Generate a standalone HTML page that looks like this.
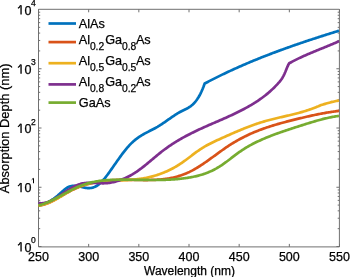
<!DOCTYPE html>
<html><head><meta charset="utf-8"><style>
html,body{margin:0;padding:0;background:#fff;}
body{width:350px;height:277px;position:relative;overflow:hidden;}
svg{position:absolute;left:0;top:0;}
.tx{will-change:transform;}
.tx text{font-family:"Liberation Sans",sans-serif;fill:#000;stroke:#000;stroke-width:0.25px;}
</style></head><body>
<svg width="350" height="277" viewBox="0 0 350 277">
<path d="M38.5 9.3H339.4V246.9H38.5Z" fill="none" stroke="#707070" stroke-width="1.0"/>
<path d="M38.50 246.9v-3M38.50 9.3v3M88.67 246.9v-3M88.67 9.3v3M138.83 246.9v-3M138.83 9.3v3M189.00 246.9v-3M189.00 9.3v3M239.17 246.9v-3M239.17 9.3v3M289.33 246.9v-3M289.33 9.3v3M339.50 246.9v-3M339.50 9.3v3M38.5 246.50h3M339.4 246.50h-3M38.5 228.66h1.7M339.4 228.66h-1.7M38.5 218.23h1.7M339.4 218.23h-1.7M38.5 210.83h1.7M339.4 210.83h-1.7M38.5 205.09h1.7M339.4 205.09h-1.7M38.5 200.39h1.7M339.4 200.39h-1.7M38.5 196.43h1.7M339.4 196.43h-1.7M38.5 192.99h1.7M339.4 192.99h-1.7M38.5 189.96h1.7M339.4 189.96h-1.7M38.5 187.25h3M339.4 187.25h-3M38.5 169.41h1.7M339.4 169.41h-1.7M38.5 158.98h1.7M339.4 158.98h-1.7M38.5 151.58h1.7M339.4 151.58h-1.7M38.5 145.84h1.7M339.4 145.84h-1.7M38.5 141.14h1.7M339.4 141.14h-1.7M38.5 137.18h1.7M339.4 137.18h-1.7M38.5 133.74h1.7M339.4 133.74h-1.7M38.5 130.71h1.7M339.4 130.71h-1.7M38.5 128.00h3M339.4 128.00h-3M38.5 110.16h1.7M339.4 110.16h-1.7M38.5 99.73h1.7M339.4 99.73h-1.7M38.5 92.33h1.7M339.4 92.33h-1.7M38.5 86.59h1.7M339.4 86.59h-1.7M38.5 81.89h1.7M339.4 81.89h-1.7M38.5 77.93h1.7M339.4 77.93h-1.7M38.5 74.49h1.7M339.4 74.49h-1.7M38.5 71.46h1.7M339.4 71.46h-1.7M38.5 68.75h3M339.4 68.75h-3M38.5 50.91h1.7M339.4 50.91h-1.7M38.5 40.48h1.7M339.4 40.48h-1.7M38.5 33.08h1.7M339.4 33.08h-1.7M38.5 27.34h1.7M339.4 27.34h-1.7M38.5 22.64h1.7M339.4 22.64h-1.7M38.5 18.68h1.7M339.4 18.68h-1.7M38.5 15.24h1.7M339.4 15.24h-1.7M38.5 12.21h1.7M339.4 12.21h-1.7" stroke="#707070" stroke-width="1.0" fill="none"/>
<path d="M38.50 204.80 L39.50 204.72 L40.50 204.58 L41.50 204.40 L42.50 204.17 L43.50 203.89 L44.50 203.57 L45.50 203.20 L46.50 202.79 L47.50 202.34 L48.50 201.84 L49.50 201.31 L50.50 200.74 L51.50 200.13 L52.50 199.48 L53.50 198.80 L54.50 198.08 L55.50 197.33 L56.50 196.55 L57.50 195.74 L58.50 194.89 L59.50 194.02 L60.50 193.13 L61.50 192.24 L62.50 191.35 L63.50 190.48 L64.50 189.65 L65.50 188.87 L66.50 188.15 L67.50 187.51 L68.50 186.97 L69.50 186.53 L70.50 186.20 L71.50 185.97 L72.50 185.83 L73.50 185.77 L74.50 185.78 L75.50 185.84 L76.50 185.96 L77.50 186.13 L78.50 186.32 L79.50 186.54 L80.50 186.78 L81.50 187.01 L82.50 187.25 L83.50 187.47 L84.50 187.66 L85.50 187.83 L86.50 187.95 L87.50 188.04 L88.50 188.07 L89.50 188.05 L90.50 187.98 L91.50 187.84 L92.50 187.63 L93.50 187.34 L94.50 186.98 L95.50 186.53 L96.50 185.99 L97.50 185.36 L98.50 184.63 L99.50 183.81 L100.50 182.90 L101.50 181.92 L102.50 180.86 L103.50 179.73 L104.50 178.55 L105.50 177.31 L106.50 176.03 L107.50 174.70 L108.50 173.34 L109.50 171.96 L110.50 170.55 L111.50 169.14 L112.50 167.71 L113.50 166.28 L114.50 164.84 L115.50 163.41 L116.50 161.99 L117.50 160.57 L118.50 159.16 L119.50 157.76 L120.50 156.38 L121.50 155.02 L122.50 153.68 L123.50 152.37 L124.50 151.09 L125.50 149.83 L126.50 148.61 L127.50 147.43 L128.50 146.29 L129.50 145.19 L130.50 144.13 L131.50 143.13 L132.50 142.18 L133.50 141.27 L134.50 140.41 L135.50 139.59 L136.50 138.81 L137.50 138.07 L138.50 137.36 L139.50 136.69 L140.50 136.04 L141.50 135.42 L142.50 134.82 L143.50 134.25 L144.50 133.69 L145.50 133.15 L146.50 132.61 L147.50 132.09 L148.50 131.58 L149.50 131.07 L150.50 130.56 L151.50 130.05 L152.50 129.53 L153.50 129.01 L154.50 128.48 L155.50 127.94 L156.50 127.38 L157.50 126.81 L158.50 126.21 L159.50 125.59 L160.50 124.96 L161.50 124.31 L162.50 123.64 L163.50 122.96 L164.50 122.28 L165.50 121.58 L166.50 120.88 L167.50 120.18 L168.50 119.47 L169.50 118.77 L170.50 118.07 L171.50 117.38 L172.50 116.69 L173.50 116.01 L174.50 115.35 L175.50 114.70 L176.50 114.06 L177.50 113.45 L178.50 112.85 L179.50 112.28 L180.50 111.74 L181.50 111.22 L182.50 110.72 L183.50 110.24 L184.50 109.76 L185.50 109.27 L186.50 108.76 L187.50 108.22 L188.50 107.64 L189.50 107.01 L190.50 106.32 L191.50 105.55 L192.50 104.70 L193.50 103.75 L194.50 102.70 L195.50 101.54 L196.50 100.24 L197.50 98.81 L198.50 97.24 L199.50 95.50 L200.50 93.59 L201.50 91.51 L202.50 89.23 L203.50 86.76 L204.50 84.07 L204.70 83.50 L205.70 82.97 L206.70 82.45 L207.70 81.93 L208.70 81.41 L209.70 80.89 L210.70 80.38 L211.70 79.86 L212.70 79.36 L213.70 78.85 L214.70 78.35 L215.70 77.85 L216.70 77.35 L217.70 76.85 L218.70 76.36 L219.70 75.87 L220.70 75.38 L221.70 74.90 L222.70 74.41 L223.70 73.93 L224.70 73.46 L225.70 72.98 L226.70 72.51 L227.70 72.04 L228.70 71.57 L229.70 71.11 L230.70 70.64 L231.70 70.18 L232.70 69.72 L233.70 69.27 L234.70 68.81 L235.70 68.36 L236.70 67.91 L237.70 67.47 L238.70 67.02 L239.70 66.58 L240.70 66.14 L241.70 65.70 L242.70 65.27 L243.70 64.83 L244.70 64.40 L245.70 63.97 L246.70 63.54 L247.70 63.12 L248.70 62.70 L249.70 62.27 L250.70 61.86 L251.70 61.44 L252.70 61.02 L253.70 60.61 L254.70 60.20 L255.70 59.79 L256.70 59.38 L257.70 58.98 L258.70 58.57 L259.70 58.17 L260.70 57.77 L261.70 57.37 L262.70 56.98 L263.70 56.58 L264.70 56.19 L265.70 55.80 L266.70 55.41 L267.70 55.02 L268.70 54.64 L269.70 54.25 L270.70 53.87 L271.70 53.49 L272.70 53.11 L273.70 52.73 L274.70 52.36 L275.70 51.98 L276.70 51.61 L277.70 51.24 L278.70 50.87 L279.70 50.50 L280.70 50.13 L281.70 49.77 L282.70 49.41 L283.70 49.04 L284.70 48.68 L285.70 48.32 L286.70 47.96 L287.70 47.61 L288.70 47.25 L289.70 46.90 L290.70 46.55 L291.70 46.19 L292.70 45.84 L293.70 45.49 L294.70 45.15 L295.70 44.80 L296.70 44.45 L297.70 44.11 L298.70 43.77 L299.70 43.43 L300.70 43.09 L301.70 42.75 L302.70 42.41 L303.70 42.07 L304.70 41.73 L305.70 41.40 L306.70 41.06 L307.70 40.73 L308.70 40.40 L309.70 40.07 L310.70 39.74 L311.70 39.41 L312.70 39.08 L313.70 38.75 L314.70 38.42 L315.70 38.10 L316.70 37.77 L317.70 37.45 L318.70 37.12 L319.70 36.80 L320.70 36.48 L321.70 36.16 L322.70 35.84 L323.70 35.52 L324.70 35.20 L325.70 34.88 L326.70 34.56 L327.70 34.25 L328.70 33.93 L329.70 33.61 L330.70 33.30 L331.70 32.98 L332.70 32.67 L333.70 32.35 L334.70 32.04 L335.70 31.73 L336.70 31.42 L337.70 31.11 L338.70 30.79 L339.00 30.70" stroke="#0072BD" stroke-width="2.7" fill="none" stroke-linejoin="round" stroke-linecap="butt"/>
<path d="M38.50 205.60 L39.50 205.50 L40.50 205.35 L41.50 205.16 L42.50 204.93 L43.50 204.67 L44.50 204.38 L45.50 204.05 L46.50 203.69 L47.50 203.31 L48.50 202.90 L49.50 202.46 L50.50 202.01 L51.50 201.53 L52.50 201.03 L53.50 200.52 L54.50 199.99 L55.50 199.44 L56.50 198.89 L57.50 198.32 L58.50 197.75 L59.50 197.17 L60.50 196.59 L61.50 196.00 L62.50 195.42 L63.50 194.83 L64.50 194.25 L65.50 193.67 L66.50 193.10 L67.50 192.54 L68.50 191.98 L69.50 191.44 L70.50 190.92 L71.50 190.41 L72.50 189.91 L73.50 189.43 L74.50 188.96 L75.50 188.51 L76.50 188.08 L77.50 187.66 L78.50 187.25 L79.50 186.86 L80.50 186.48 L81.50 186.11 L82.50 185.76 L83.50 185.42 L84.50 185.09 L85.50 184.77 L86.50 184.47 L87.50 184.18 L88.50 183.90 L89.50 183.64 L90.50 183.38 L91.50 183.14 L92.50 182.90 L93.50 182.68 L94.50 182.47 L95.50 182.26 L96.50 182.07 L97.50 181.89 L98.50 181.72 L99.50 181.55 L100.50 181.40 L101.50 181.25 L102.50 181.12 L103.50 180.99 L104.50 180.87 L105.50 180.75 L106.50 180.65 L107.50 180.55 L108.50 180.46 L109.50 180.38 L110.50 180.30 L111.50 180.23 L112.50 180.17 L113.50 180.11 L114.50 180.06 L115.50 180.01 L116.50 179.97 L117.50 179.94 L118.50 179.91 L119.50 179.88 L120.50 179.86 L121.50 179.84 L122.50 179.83 L123.50 179.82 L124.50 179.81 L125.50 179.81 L126.50 179.81 L127.50 179.82 L128.50 179.82 L129.50 179.83 L130.50 179.84 L131.50 179.85 L132.50 179.87 L133.50 179.88 L134.50 179.90 L135.50 179.92 L136.50 179.93 L137.50 179.95 L138.50 179.97 L139.50 179.98 L140.50 180.00 L141.50 180.01 L142.50 180.02 L143.50 180.03 L144.50 180.03 L145.50 180.03 L146.50 180.03 L147.50 180.03 L148.50 180.02 L149.50 180.01 L150.50 179.99 L151.50 179.97 L152.50 179.94 L153.50 179.91 L154.50 179.87 L155.50 179.82 L156.50 179.77 L157.50 179.71 L158.50 179.64 L159.50 179.56 L160.50 179.48 L161.50 179.39 L162.50 179.28 L163.50 179.17 L164.50 179.05 L165.50 178.92 L166.50 178.78 L167.50 178.63 L168.50 178.47 L169.50 178.30 L170.50 178.11 L171.50 177.91 L172.50 177.70 L173.50 177.48 L174.50 177.25 L175.50 177.00 L176.50 176.73 L177.50 176.46 L178.50 176.17 L179.50 175.86 L180.50 175.54 L181.50 175.20 L182.50 174.85 L183.50 174.48 L184.50 174.09 L185.50 173.69 L186.50 173.27 L187.50 172.84 L188.50 172.38 L189.50 171.91 L190.50 171.41 L191.50 170.90 L192.50 170.38 L193.50 169.83 L194.50 169.27 L195.50 168.69 L196.50 168.10 L197.50 167.49 L198.50 166.88 L199.50 166.24 L200.50 165.60 L201.50 164.95 L202.50 164.28 L203.50 163.61 L204.50 162.93 L205.50 162.24 L206.50 161.54 L207.50 160.84 L208.50 160.13 L209.50 159.41 L210.50 158.69 L211.50 157.97 L212.50 157.25 L213.50 156.52 L214.50 155.79 L215.50 155.06 L216.50 154.34 L217.50 153.61 L218.50 152.88 L219.50 152.16 L220.50 151.44 L221.50 150.73 L222.50 150.02 L223.50 149.31 L224.50 148.61 L225.50 147.92 L226.50 147.24 L227.50 146.56 L228.50 145.90 L229.50 145.24 L230.50 144.60 L231.50 143.97 L232.50 143.34 L233.50 142.73 L234.50 142.13 L235.50 141.54 L236.50 140.96 L237.50 140.39 L238.50 139.83 L239.50 139.28 L240.50 138.74 L241.50 138.21 L242.50 137.69 L243.50 137.18 L244.50 136.67 L245.50 136.18 L246.50 135.69 L247.50 135.22 L248.50 134.75 L249.50 134.29 L250.50 133.84 L251.50 133.39 L252.50 132.96 L253.50 132.53 L254.50 132.11 L255.50 131.70 L256.50 131.29 L257.50 130.89 L258.50 130.50 L259.50 130.11 L260.50 129.73 L261.50 129.36 L262.50 129.00 L263.50 128.64 L264.50 128.28 L265.50 127.93 L266.50 127.59 L267.50 127.25 L268.50 126.92 L269.50 126.60 L270.50 126.27 L271.50 125.96 L272.50 125.65 L273.50 125.34 L274.50 125.03 L275.50 124.74 L276.50 124.44 L277.50 124.15 L278.50 123.86 L279.50 123.58 L280.50 123.30 L281.50 123.02 L282.50 122.75 L283.50 122.48 L284.50 122.21 L285.50 121.94 L286.50 121.68 L287.50 121.42 L288.50 121.16 L289.50 120.91 L290.50 120.65 L291.50 120.40 L292.50 120.15 L293.50 119.90 L294.50 119.65 L295.50 119.40 L296.50 119.16 L297.50 118.91 L298.50 118.67 L299.50 118.42 L300.50 118.18 L301.50 117.94 L302.50 117.71 L303.50 117.47 L304.50 117.23 L305.50 117.00 L306.50 116.77 L307.50 116.54 L308.50 116.31 L309.50 116.09 L310.50 115.87 L311.50 115.65 L312.50 115.43 L313.50 115.22 L314.50 115.00 L315.50 114.80 L316.50 114.59 L317.50 114.39 L318.50 114.19 L319.50 113.99 L320.50 113.79 L321.50 113.60 L322.50 113.42 L323.50 113.23 L324.50 113.05 L325.50 112.88 L326.50 112.70 L327.50 112.53 L328.50 112.37 L329.50 112.21 L330.50 112.05 L331.50 111.90 L332.50 111.75 L333.50 111.61 L334.50 111.47 L335.50 111.33 L336.50 111.20 L337.50 111.08 L338.50 110.96 L339.00 110.90" stroke="#D95319" stroke-width="2.7" fill="none" stroke-linejoin="round" stroke-linecap="butt"/>
<path d="M38.50 205.60 L39.50 205.40 L40.50 205.19 L41.50 204.96 L42.50 204.71 L43.50 204.44 L44.50 204.15 L45.50 203.84 L46.50 203.51 L47.50 203.15 L48.50 202.78 L49.50 202.38 L50.50 201.97 L51.50 201.52 L52.50 201.06 L53.50 200.57 L54.50 200.06 L55.50 199.53 L56.50 198.97 L57.50 198.40 L58.50 197.81 L59.50 197.21 L60.50 196.60 L61.50 195.98 L62.50 195.36 L63.50 194.73 L64.50 194.11 L65.50 193.49 L66.50 192.88 L67.50 192.28 L68.50 191.69 L69.50 191.11 L70.50 190.56 L71.50 190.02 L72.50 189.50 L73.50 189.01 L74.50 188.53 L75.50 188.08 L76.50 187.64 L77.50 187.22 L78.50 186.82 L79.50 186.43 L80.50 186.07 L81.50 185.72 L82.50 185.38 L83.50 185.06 L84.50 184.76 L85.50 184.47 L86.50 184.20 L87.50 183.94 L88.50 183.69 L89.50 183.46 L90.50 183.24 L91.50 183.03 L92.50 182.83 L93.50 182.65 L94.50 182.48 L95.50 182.31 L96.50 182.16 L97.50 182.02 L98.50 181.88 L99.50 181.76 L100.50 181.64 L101.50 181.53 L102.50 181.43 L103.50 181.33 L104.50 181.24 L105.50 181.16 L106.50 181.09 L107.50 181.01 L108.50 180.95 L109.50 180.89 L110.50 180.83 L111.50 180.78 L112.50 180.72 L113.50 180.68 L114.50 180.63 L115.50 180.59 L116.50 180.54 L117.50 180.50 L118.50 180.46 L119.50 180.42 L120.50 180.38 L121.50 180.34 L122.50 180.29 L123.50 180.25 L124.50 180.20 L125.50 180.15 L126.50 180.10 L127.50 180.04 L128.50 179.98 L129.50 179.92 L130.50 179.85 L131.50 179.78 L132.50 179.70 L133.50 179.61 L134.50 179.52 L135.50 179.42 L136.50 179.32 L137.50 179.21 L138.50 179.08 L139.50 178.95 L140.50 178.82 L141.50 178.67 L142.50 178.51 L143.50 178.34 L144.50 178.16 L145.50 177.98 L146.50 177.78 L147.50 177.57 L148.50 177.35 L149.50 177.12 L150.50 176.88 L151.50 176.63 L152.50 176.37 L153.50 176.10 L154.50 175.81 L155.50 175.51 L156.50 175.20 L157.50 174.88 L158.50 174.55 L159.50 174.20 L160.50 173.84 L161.50 173.47 L162.50 173.09 L163.50 172.69 L164.50 172.28 L165.50 171.85 L166.50 171.41 L167.50 170.96 L168.50 170.49 L169.50 170.01 L170.50 169.52 L171.50 169.01 L172.50 168.48 L173.50 167.94 L174.50 167.39 L175.50 166.82 L176.50 166.23 L177.50 165.63 L178.50 165.01 L179.50 164.38 L180.50 163.73 L181.50 163.06 L182.50 162.38 L183.50 161.68 L184.50 160.97 L185.50 160.24 L186.50 159.50 L187.50 158.75 L188.50 157.99 L189.50 157.23 L190.50 156.47 L191.50 155.70 L192.50 154.94 L193.50 154.18 L194.50 153.43 L195.50 152.69 L196.50 151.95 L197.50 151.23 L198.50 150.53 L199.50 149.84 L200.50 149.17 L201.50 148.52 L202.50 147.89 L203.50 147.28 L204.50 146.69 L205.50 146.11 L206.50 145.55 L207.50 145.00 L208.50 144.47 L209.50 143.95 L210.50 143.44 L211.50 142.94 L212.50 142.45 L213.50 141.97 L214.50 141.49 L215.50 141.03 L216.50 140.56 L217.50 140.10 L218.50 139.65 L219.50 139.19 L220.50 138.74 L221.50 138.29 L222.50 137.84 L223.50 137.39 L224.50 136.94 L225.50 136.49 L226.50 136.04 L227.50 135.59 L228.50 135.15 L229.50 134.70 L230.50 134.26 L231.50 133.82 L232.50 133.38 L233.50 132.95 L234.50 132.52 L235.50 132.09 L236.50 131.66 L237.50 131.23 L238.50 130.81 L239.50 130.39 L240.50 129.98 L241.50 129.56 L242.50 129.15 L243.50 128.75 L244.50 128.35 L245.50 127.95 L246.50 127.56 L247.50 127.17 L248.50 126.79 L249.50 126.41 L250.50 126.03 L251.50 125.66 L252.50 125.30 L253.50 124.94 L254.50 124.58 L255.50 124.23 L256.50 123.89 L257.50 123.55 L258.50 123.22 L259.50 122.89 L260.50 122.57 L261.50 122.26 L262.50 121.95 L263.50 121.65 L264.50 121.36 L265.50 121.07 L266.50 120.79 L267.50 120.51 L268.50 120.24 L269.50 119.98 L270.50 119.72 L271.50 119.46 L272.50 119.21 L273.50 118.96 L274.50 118.71 L275.50 118.47 L276.50 118.23 L277.50 118.00 L278.50 117.76 L279.50 117.53 L280.50 117.29 L281.50 117.06 L282.50 116.83 L283.50 116.60 L284.50 116.37 L285.50 116.14 L286.50 115.91 L287.50 115.68 L288.50 115.44 L289.50 115.21 L290.50 114.97 L291.50 114.73 L292.50 114.49 L293.50 114.24 L294.50 113.99 L295.50 113.74 L296.50 113.49 L297.50 113.22 L298.50 112.96 L299.50 112.69 L300.50 112.41 L301.50 112.13 L302.50 111.84 L303.50 111.55 L304.50 111.25 L305.50 110.94 L306.50 110.63 L307.50 110.30 L308.50 109.97 L309.50 109.64 L310.50 109.29 L311.50 108.93 L312.50 108.57 L313.50 108.19 L314.50 107.80 L315.50 107.41 L316.50 107.00 L317.50 106.58 L318.50 106.16 L319.50 105.71 L320.20 105.40 L321.20 105.08 L322.20 104.76 L323.20 104.45 L324.20 104.15 L325.20 103.85 L326.20 103.55 L327.20 103.26 L328.20 102.98 L329.20 102.71 L330.20 102.44 L331.20 102.18 L332.20 101.93 L333.20 101.69 L334.20 101.46 L335.20 101.24 L336.20 101.03 L337.20 100.83 L338.20 100.64 L339.00 100.50" stroke="#EDB120" stroke-width="2.7" fill="none" stroke-linejoin="round" stroke-linecap="butt"/>
<path d="M38.50 203.00 L39.50 203.14 L40.50 203.22 L41.50 203.23 L42.50 203.18 L43.50 203.07 L44.50 202.91 L45.50 202.69 L46.50 202.42 L47.50 202.11 L48.50 201.75 L49.50 201.35 L50.50 200.91 L51.50 200.44 L52.50 199.93 L53.50 199.40 L54.50 198.84 L55.50 198.25 L56.50 197.65 L57.50 197.02 L58.50 196.38 L59.50 195.73 L60.50 195.07 L61.50 194.40 L62.50 193.73 L63.50 193.06 L64.50 192.39 L65.50 191.73 L66.50 191.07 L67.50 190.41 L68.50 189.78 L69.50 189.15 L70.50 188.54 L71.50 187.95 L72.50 187.38 L73.50 186.84 L74.50 186.32 L75.50 185.83 L76.50 185.38 L77.50 184.95 L78.50 184.57 L79.50 184.22 L80.50 183.92 L81.50 183.65 L82.50 183.43 L83.50 183.25 L84.50 183.10 L85.50 182.98 L86.50 182.89 L87.50 182.83 L88.50 182.80 L89.50 182.78 L90.50 182.79 L91.50 182.81 L92.50 182.84 L93.50 182.88 L94.50 182.93 L95.50 182.99 L96.50 183.04 L97.50 183.10 L98.50 183.16 L99.50 183.20 L100.50 183.24 L101.50 183.27 L102.50 183.29 L103.50 183.28 L104.50 183.26 L105.50 183.22 L106.50 183.15 L107.50 183.06 L108.50 182.95 L109.50 182.82 L110.50 182.66 L111.50 182.49 L112.50 182.29 L113.50 182.07 L114.50 181.84 L115.50 181.58 L116.50 181.30 L117.50 181.01 L118.50 180.69 L119.50 180.36 L120.50 180.00 L121.50 179.63 L122.50 179.24 L123.50 178.83 L124.50 178.40 L125.50 177.95 L126.50 177.49 L127.50 177.01 L128.50 176.51 L129.50 175.99 L130.50 175.45 L131.50 174.89 L132.50 174.31 L133.50 173.71 L134.50 173.09 L135.50 172.45 L136.50 171.79 L137.50 171.11 L138.50 170.41 L139.50 169.70 L140.50 168.96 L141.50 168.20 L142.50 167.43 L143.50 166.65 L144.50 165.85 L145.50 165.04 L146.50 164.22 L147.50 163.40 L148.50 162.56 L149.50 161.72 L150.50 160.88 L151.50 160.04 L152.50 159.19 L153.50 158.35 L154.50 157.51 L155.50 156.67 L156.50 155.84 L157.50 155.01 L158.50 154.19 L159.50 153.39 L160.50 152.59 L161.50 151.80 L162.50 151.03 L163.50 150.27 L164.50 149.53 L165.50 148.79 L166.50 148.07 L167.50 147.36 L168.50 146.66 L169.50 145.97 L170.50 145.29 L171.50 144.63 L172.50 143.97 L173.50 143.32 L174.50 142.69 L175.50 142.06 L176.50 141.44 L177.50 140.84 L178.50 140.24 L179.50 139.65 L180.50 139.07 L181.50 138.49 L182.50 137.93 L183.50 137.37 L184.50 136.82 L185.50 136.28 L186.50 135.75 L187.50 135.22 L188.50 134.70 L189.50 134.18 L190.50 133.68 L191.50 133.17 L192.50 132.68 L193.50 132.18 L194.50 131.70 L195.50 131.22 L196.50 130.74 L197.50 130.27 L198.50 129.80 L199.50 129.34 L200.50 128.88 L201.50 128.42 L202.50 127.97 L203.50 127.52 L204.50 127.07 L205.50 126.62 L206.50 126.18 L207.50 125.74 L208.50 125.30 L209.50 124.86 L210.50 124.43 L211.50 123.99 L212.50 123.56 L213.50 123.13 L214.50 122.70 L215.50 122.26 L216.50 121.83 L217.50 121.40 L218.50 120.96 L219.50 120.53 L220.50 120.10 L221.50 119.66 L222.50 119.22 L223.50 118.78 L224.50 118.34 L225.50 117.90 L226.50 117.45 L227.50 117.00 L228.50 116.55 L229.50 116.09 L230.50 115.63 L231.50 115.17 L232.50 114.71 L233.50 114.24 L234.50 113.76 L235.50 113.28 L236.50 112.80 L237.50 112.31 L238.50 111.81 L239.50 111.31 L240.50 110.81 L241.50 110.30 L242.50 109.78 L243.50 109.25 L244.50 108.72 L245.50 108.18 L246.50 107.64 L247.50 107.08 L248.50 106.52 L249.50 105.95 L250.50 105.38 L251.50 104.79 L252.50 104.19 L253.50 103.58 L254.50 102.97 L255.50 102.34 L256.50 101.69 L257.50 101.04 L258.50 100.37 L259.50 99.68 L260.50 98.98 L261.50 98.26 L262.50 97.53 L263.50 96.78 L264.50 96.01 L265.50 95.22 L266.50 94.42 L267.50 93.59 L268.50 92.74 L269.50 91.87 L270.50 90.98 L271.50 90.07 L272.50 89.13 L273.50 88.16 L274.50 87.18 L275.50 86.16 L276.50 85.12 L277.50 84.06 L278.50 82.96 L279.50 81.82 L280.50 80.58 L281.50 79.20 L282.50 77.65 L283.50 75.87 L284.50 73.83 L285.50 71.50 L286.50 68.99 L287.50 66.55 L288.50 64.45 L289.20 63.30 L290.20 62.75 L291.20 62.20 L292.20 61.67 L293.20 61.14 L294.20 60.62 L295.20 60.12 L296.20 59.61 L297.20 59.12 L298.20 58.63 L299.20 58.15 L300.20 57.68 L301.20 57.21 L302.20 56.75 L303.20 56.30 L304.20 55.85 L305.20 55.40 L306.20 54.96 L307.20 54.52 L308.20 54.09 L309.20 53.66 L310.20 53.24 L311.20 52.82 L312.20 52.40 L313.20 51.98 L314.20 51.57 L315.20 51.16 L316.20 50.75 L317.20 50.34 L318.20 49.93 L319.20 49.53 L320.20 49.12 L321.20 48.72 L322.20 48.31 L323.20 47.91 L324.20 47.50 L325.20 47.09 L326.20 46.68 L327.20 46.27 L328.20 45.86 L329.20 45.44 L330.20 45.03 L331.20 44.61 L332.20 44.18 L333.20 43.76 L334.20 43.33 L335.20 42.89 L336.20 42.45 L337.20 42.01 L338.20 41.56 L339.00 41.20" stroke="#7E2F8E" stroke-width="2.7" fill="none" stroke-linejoin="round" stroke-linecap="butt"/>
<path d="M38.50 205.40 L39.50 205.15 L40.50 204.87 L41.50 204.58 L42.50 204.26 L43.50 203.92 L44.50 203.55 L45.50 203.17 L46.50 202.77 L47.50 202.36 L48.50 201.93 L49.50 201.48 L50.50 201.02 L51.50 200.54 L52.50 200.06 L53.50 199.56 L54.50 199.06 L55.50 198.54 L56.50 198.02 L57.50 197.49 L58.50 196.95 L59.50 196.41 L60.50 195.86 L61.50 195.32 L62.50 194.77 L63.50 194.22 L64.50 193.67 L65.50 193.12 L66.50 192.58 L67.50 192.03 L68.50 191.50 L69.50 190.96 L70.50 190.44 L71.50 189.92 L72.50 189.41 L73.50 188.91 L74.50 188.42 L75.50 187.95 L76.50 187.48 L77.50 187.03 L78.50 186.60 L79.50 186.18 L80.50 185.77 L81.50 185.39 L82.50 185.02 L83.50 184.66 L84.50 184.33 L85.50 184.01 L86.50 183.70 L87.50 183.41 L88.50 183.13 L89.50 182.87 L90.50 182.62 L91.50 182.39 L92.50 182.16 L93.50 181.95 L94.50 181.76 L95.50 181.57 L96.50 181.40 L97.50 181.24 L98.50 181.08 L99.50 180.94 L100.50 180.81 L101.50 180.69 L102.50 180.58 L103.50 180.47 L104.50 180.38 L105.50 180.29 L106.50 180.21 L107.50 180.14 L108.50 180.08 L109.50 180.02 L110.50 179.97 L111.50 179.92 L112.50 179.88 L113.50 179.85 L114.50 179.82 L115.50 179.79 L116.50 179.77 L117.50 179.75 L118.50 179.73 L119.50 179.72 L120.50 179.71 L121.50 179.71 L122.50 179.70 L123.50 179.70 L124.50 179.70 L125.50 179.70 L126.50 179.71 L127.50 179.71 L128.50 179.72 L129.50 179.73 L130.50 179.74 L131.50 179.75 L132.50 179.76 L133.50 179.77 L134.50 179.78 L135.50 179.80 L136.50 179.81 L137.50 179.83 L138.50 179.84 L139.50 179.86 L140.50 179.87 L141.50 179.89 L142.50 179.90 L143.50 179.91 L144.50 179.93 L145.50 179.94 L146.50 179.95 L147.50 179.96 L148.50 179.97 L149.50 179.98 L150.50 179.98 L151.50 179.99 L152.50 179.99 L153.50 179.99 L154.50 179.99 L155.50 179.98 L156.50 179.98 L157.50 179.97 L158.50 179.96 L159.50 179.94 L160.50 179.92 L161.50 179.90 L162.50 179.88 L163.50 179.85 L164.50 179.82 L165.50 179.79 L166.50 179.75 L167.50 179.71 L168.50 179.66 L169.50 179.61 L170.50 179.56 L171.50 179.50 L172.50 179.44 L173.50 179.37 L174.50 179.30 L175.50 179.22 L176.50 179.13 L177.50 179.05 L178.50 178.95 L179.50 178.85 L180.50 178.75 L181.50 178.64 L182.50 178.52 L183.50 178.39 L184.50 178.26 L185.50 178.13 L186.50 177.99 L187.50 177.84 L188.50 177.68 L189.50 177.51 L190.50 177.34 L191.50 177.16 L192.50 176.96 L193.50 176.76 L194.50 176.55 L195.50 176.32 L196.50 176.09 L197.50 175.84 L198.50 175.58 L199.50 175.31 L200.50 175.03 L201.50 174.73 L202.50 174.42 L203.50 174.10 L204.50 173.76 L205.50 173.40 L206.50 173.03 L207.50 172.64 L208.50 172.24 L209.50 171.82 L210.50 171.38 L211.50 170.92 L212.50 170.45 L213.50 169.95 L214.50 169.44 L215.50 168.91 L216.50 168.36 L217.50 167.78 L218.50 167.19 L219.50 166.57 L220.50 165.93 L221.50 165.28 L222.50 164.60 L223.50 163.90 L224.50 163.19 L225.50 162.47 L226.50 161.73 L227.50 160.99 L228.50 160.23 L229.50 159.47 L230.50 158.71 L231.50 157.94 L232.50 157.18 L233.50 156.41 L234.50 155.65 L235.50 154.90 L236.50 154.15 L237.50 153.41 L238.50 152.69 L239.50 151.97 L240.50 151.27 L241.50 150.59 L242.50 149.93 L243.50 149.28 L244.50 148.64 L245.50 148.02 L246.50 147.42 L247.50 146.83 L248.50 146.25 L249.50 145.68 L250.50 145.13 L251.50 144.59 L252.50 144.06 L253.50 143.55 L254.50 143.04 L255.50 142.54 L256.50 142.05 L257.50 141.58 L258.50 141.11 L259.50 140.65 L260.50 140.19 L261.50 139.74 L262.50 139.30 L263.50 138.87 L264.50 138.44 L265.50 138.02 L266.50 137.61 L267.50 137.20 L268.50 136.79 L269.50 136.39 L270.50 136.00 L271.50 135.61 L272.50 135.23 L273.50 134.85 L274.50 134.47 L275.50 134.10 L276.50 133.74 L277.50 133.37 L278.50 133.02 L279.50 132.66 L280.50 132.31 L281.50 131.96 L282.50 131.61 L283.50 131.27 L284.50 130.93 L285.50 130.60 L286.50 130.26 L287.50 129.93 L288.50 129.60 L289.50 129.27 L290.50 128.94 L291.50 128.62 L292.50 128.29 L293.50 127.97 L294.50 127.65 L295.50 127.33 L296.50 127.01 L297.50 126.69 L298.50 126.37 L299.50 126.05 L300.50 125.73 L301.50 125.41 L302.50 125.09 L303.50 124.78 L304.50 124.46 L305.50 124.14 L306.50 123.83 L307.50 123.51 L308.50 123.20 L309.50 122.89 L310.50 122.59 L311.50 122.28 L312.50 121.98 L313.50 121.68 L314.50 121.39 L315.50 121.09 L316.50 120.81 L317.50 120.52 L318.50 120.24 L319.50 119.97 L320.50 119.70 L321.50 119.43 L322.50 119.17 L323.50 118.92 L324.50 118.67 L325.50 118.43 L326.50 118.20 L327.50 117.97 L328.50 117.75 L329.50 117.53 L330.50 117.32 L331.50 117.12 L332.50 116.93 L333.50 116.75 L334.50 116.58 L335.50 116.41 L336.50 116.25 L337.50 116.10 L338.50 115.97 L339.00 115.90" stroke="#77AC30" stroke-width="2.7" fill="none" stroke-linejoin="round" stroke-linecap="butt"/>
<path d="M48.5 23.5H76.0" stroke="#0072BD" stroke-width="2.7"/>
<path d="M48.5 42.1H76.0" stroke="#D95319" stroke-width="2.7"/>
<path d="M48.5 63.2H76.0" stroke="#EDB120" stroke-width="2.7"/>
<path d="M48.5 84.4H76.0" stroke="#7E2F8E" stroke-width="2.7"/>
<path d="M48.5 102.6H76.0" stroke="#77AC30" stroke-width="2.7"/>
</svg>
<svg class="tx" width="350" height="277" viewBox="0 0 350 277">
<text x="31.5" y="251.60" font-size="12.5" text-anchor="end">0</text>
<path d="M20.38 242.20H21.73V251.50H20.38Z" fill="#000" stroke="none"/>
<path d="M17.9 245.30Q19.6 244.50 20.57 242.30" fill="none" stroke="#000" stroke-width="1.2"/>
<text x="31" y="243.10" font-size="8.5">0</text>
<text x="31.5" y="192.35" font-size="12.5" text-anchor="end">0</text>
<path d="M20.38 182.95H21.73V192.25H20.38Z" fill="#000" stroke="none"/>
<path d="M17.9 186.05Q19.6 185.25 20.57 183.05" fill="none" stroke="#000" stroke-width="1.2"/>
<path d="M33.00 178.25H34.00V183.25H33.00Z" fill="#000"/>
<path d="M31.7 179.75L33.15 178.35" stroke="#000" stroke-width="0.9" fill="none"/>
<text x="31.5" y="133.10" font-size="12.5" text-anchor="end">0</text>
<path d="M20.38 123.70H21.73V133.00H20.38Z" fill="#000" stroke="none"/>
<path d="M17.9 126.80Q19.6 126.00 20.57 123.80" fill="none" stroke="#000" stroke-width="1.2"/>
<text x="31" y="124.60" font-size="8.5">2</text>
<text x="31.5" y="73.85" font-size="12.5" text-anchor="end">0</text>
<path d="M20.38 64.45H21.73V73.75H20.38Z" fill="#000" stroke="none"/>
<path d="M17.9 67.55Q19.6 66.75 20.57 64.55" fill="none" stroke="#000" stroke-width="1.2"/>
<text x="31" y="65.35" font-size="8.5">3</text>
<text x="31.5" y="14.60" font-size="12.5" text-anchor="end">0</text>
<path d="M20.38 5.20H21.73V14.50H20.38Z" fill="#000" stroke="none"/>
<path d="M17.9 8.30Q19.6 7.50 20.57 5.30" fill="none" stroke="#000" stroke-width="1.2"/>
<text x="31" y="6.10" font-size="8.5">4</text>
<text x="38.50" y="261.3" font-size="12.5" text-anchor="middle">250</text>
<text x="88.67" y="261.3" font-size="12.5" text-anchor="middle">300</text>
<text x="138.83" y="261.3" font-size="12.5" text-anchor="middle">350</text>
<text x="189.00" y="261.3" font-size="12.5" text-anchor="middle">400</text>
<text x="239.17" y="261.3" font-size="12.5" text-anchor="middle">450</text>
<text x="289.33" y="261.3" font-size="12.5" text-anchor="middle">500</text>
<text x="339.50" y="261.3" font-size="12.5" text-anchor="middle">550</text>
<text x="144.0" y="275.0" font-size="12.0">Wavelength (nm)</text>
<text transform="translate(9.4 193.2) rotate(-90)" x="0" y="0" font-size="12.9">Absorption Depth (nm)</text>
<text x="78.8" y="27.80" font-size="12.7">AlAs</text>
<text x="78.8" y="44.10" font-size="12.7">Al</text><text x="89.9" y="50.40" font-size="10.3">0.2</text><text x="105.2" y="44.10" font-size="12.7">Ga</text><text x="122.0" y="50.40" font-size="10.3">0.8</text><text x="135.9" y="44.10" font-size="12.7">As</text>
<text x="78.8" y="64.80" font-size="12.7">Al</text><text x="89.9" y="71.10" font-size="10.3">0.5</text><text x="105.2" y="64.80" font-size="12.7">Ga</text><text x="122.0" y="71.10" font-size="10.3">0.5</text><text x="135.9" y="64.80" font-size="12.7">As</text>
<text x="78.8" y="85.50" font-size="12.7">Al</text><text x="89.9" y="91.80" font-size="10.3">0.8</text><text x="105.2" y="85.50" font-size="12.7">Ga</text><text x="122.0" y="91.80" font-size="10.3">0.2</text><text x="135.9" y="85.50" font-size="12.7">As</text>
<text x="78.8" y="106.50" font-size="12.7">GaAs</text>
</svg>
</body></html>
